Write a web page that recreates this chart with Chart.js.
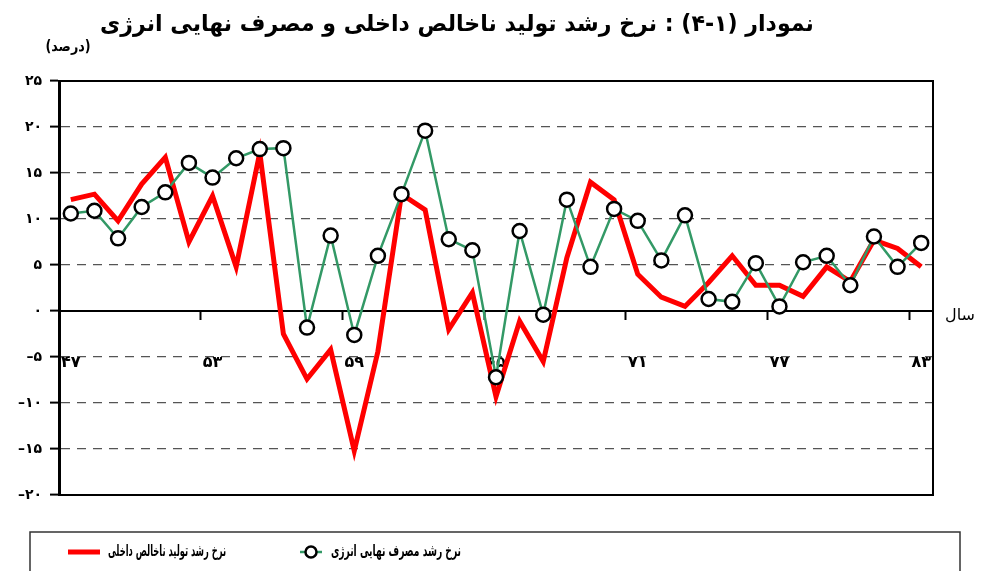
<!DOCTYPE html>
<html lang="fa">
<head>
    <meta charset="UTF-8">
    <title>نرخ رشد تولید ناخالص داخلی و مصرف نهایی انرژی</title>
    <script src="https://cdn.jsdelivr.net/npm/chart.js"></script>
    <style>
        body { margin: 0; padding: 0; background: #fff; }
        .wrap { width: 981px; height: 571px; position: relative; }
    </style>
</head>
<body>
    <div class="wrap">
        <canvas id="growthChart"></canvas>
    </div>

    <script>
        // years 1347..1383
        const years = ['۴۷', '۴۸', '۴۹', '۵۰', '۵۱', '۵۲', '۵۳', '۵۴', '۵۵', '۵۶', '۵۷', '۵۸', '۵۹',
                       '۶۰', '۶۱', '۶۲', '۶۳', '۶۴', '۶۵', '۶۶', '۶۷', '۶۸', '۶۹', '۷۰', '۷۱',
                       '۷۲', '۷۳', '۷۴', '۷۵', '۷۶', '۷۷', '۷۸', '۷۹', '۸۰', '۸۱', '۸۲', '۸۳'];
        const energyGrowth = [10.6, 10.9, 7.9, 11.3, 12.9, 16.1, 14.5, 16.6, 17.6, 17.7, -1.8, 8.2, -2.6,
                              6.0, 12.7, 19.6, 7.8, 6.6, -7.2, 8.7, -0.4, 12.1, 4.8, 11.1, 9.8,
                              5.5, 10.4, 1.3, 1.0, 5.2, 0.5, 5.3, 6.0, 2.8, 8.1, 4.8, 7.4];
        const gdpGrowth = [12.1, 12.7, 9.8, 13.8, 16.7, 7.5, 12.5, 4.8, 17.2, -2.5, -7.4, -4.2, -15.2,
                           -4.4, 12.7, 11.0, -2.0, 2.0, -9.3, -1.1, -5.5, 5.8, 14.0, 12.1, 4.0,
                           1.5, 0.5, 3.1, 6.0, 2.8, 2.8, 1.6, 4.8, 3.2, 7.7, 6.8, 4.8];
        const yTicks = [-20, -15, -10, -5, 0, 5, 10, 15, 20, 25];
        const labelEvery = 6;

        const titleText = 'نمودار (۱-۴) : نرخ رشد تولید ناخالص داخلی و مصرف نهایی انرژی';
        const unitText = '(درصد)';
        const xAxisText = 'سال';
        const energyName = 'نرخ رشد مصرف نهایی انرژی';
        const gdpName = 'نرخ رشد تولید ناخالص داخلی';

        const faFont = '"DejaVu Sans", sans-serif';
        const faDigits = '۰۱۲۳۴۵۶۷۸۹';
        function toFa(n) {
            const s = String(Math.abs(n)).replace(/\d/g, d => faDigits[d]);
            return n < 0 ? '–' + s : s;
        }

        // draw narrow persian text, anchored at x
        function narrowText(ctx, text, x, y, sx) {
            ctx.save();
            ctx.translate(x, y);
            ctx.scale(sx, 1);
            ctx.fillText(text, 0, 0);
            ctx.restore();
        }

        const decor = {
            id: 'decor',
            beforeDatasetsDraw(chart) {
                const { ctx, chartArea: a } = chart;
                ctx.save();
                ctx.strokeStyle = '#000';
                ctx.lineWidth = 2;
                ctx.strokeRect(a.left, a.top, a.right - a.left, a.bottom - a.top);
                ctx.restore();
            },
            afterDraw(chart) {
                const { ctx, chartArea: a } = chart;
                const y0 = chart.scales.y.getPixelForValue(0);
                ctx.save();
                ctx.fillStyle = '#000';
                ctx.direction = 'rtl';
                ctx.textBaseline = 'middle';
                ctx.textAlign = 'center';
                ctx.font = 'bold 23px ' + faFont;
                narrowText(ctx, titleText, 457, 25, 0.96);
                ctx.font = 'bold 15px ' + faFont;
                narrowText(ctx, unitText, 68, 47, 0.85);
                ctx.font = '16px ' + faFont;
                ctx.textAlign = 'left';
                ctx.fillText(xAxisText, a.right + 12, y0 + 5);

                // legend box
                const ly = 552;
                ctx.strokeStyle = '#333';
                ctx.lineWidth = 1.5;
                ctx.strokeRect(30, 532, 930, 60);

                ctx.strokeStyle = '#ff0000';
                ctx.lineWidth = 5;
                ctx.beginPath();
                ctx.moveTo(68, ly);
                ctx.lineTo(100, ly);
                ctx.stroke();

                ctx.strokeStyle = '#339966';
                ctx.lineWidth = 2.5;
                ctx.beginPath();
                ctx.moveTo(300, ly);
                ctx.lineTo(322, ly);
                ctx.stroke();
                ctx.beginPath();
                ctx.arc(311, ly, 5.5, 0, Math.PI * 2);
                ctx.fillStyle = '#fff';
                ctx.fill();
                ctx.strokeStyle = '#000';
                ctx.lineWidth = 2.5;
                ctx.stroke();

                ctx.fillStyle = '#000';
                ctx.font = 'bold 16px ' + faFont;
                ctx.textAlign = 'right';
                narrowText(ctx, gdpName, 226, ly, 0.52);
                narrowText(ctx, energyName, 461, ly, 0.57);
                ctx.restore();
            }
        };

        const ctx = document.getElementById('growthChart').getContext('2d');
        new Chart(ctx, {
            type: 'line',
            data: {
                labels: years,
                datasets: [{
                    label: energyName,
                    data: energyGrowth,
                    borderColor: '#339966',
                    borderWidth: 2.5,
                    pointRadius: 7,
                    pointBorderWidth: 2.5,
                    pointBackgroundColor: '#fff',
                    pointBorderColor: '#000',
                    tension: 0
                }, {
                    label: gdpName,
                    data: gdpGrowth,
                    borderColor: '#ff0000',
                    borderWidth: 5,
                    pointRadius: 0,
                    tension: 0
                }]
            },
            options: {
                responsive: true,
                maintainAspectRatio: false,
                animation: false,
                layout: { padding: { left: 0, top: 81, right: 48, bottom: 76 } },
                scales: {
                    x: {
                        position: { y: 0 },
                        offset: true,
                        grid: {
                            offset: true,
                            drawOnChartArea: false,
                            tickLength: 8,
                            tickWidth: 2,
                            color: 'rgba(0,0,0,0)',
                            tickColor: c => (c.index > 0 && c.index < years.length && c.index % labelEvery === 0) ? '#000' : 'rgba(0,0,0,0)'
                        },
                        border: { color: '#000', width: 2 },
                        ticks: {
                            autoSkip: false,
                            maxRotation: 0,
                            padding: 34,
                            color: '#000',
                            font: { family: faFont, size: 16, weight: 'bold' },
                            callback: (v, i) => i % labelEvery === 0 ? years[i] : ''
                        }
                    },
                    y: {
                        min: yTicks[0],
                        max: yTicks[yTicks.length - 1],
                        afterFit: s => { s.width = 59; },
                        afterBuildTicks: s => { s.ticks = yTicks.map(v => ({ value: v })); },
                        grid: {
                            color: c => [0, 25, -20].includes(c.tick.value) ? 'rgba(0,0,0,0)' : '#555',
                            lineWidth: 1.2,
                            tickLength: 9,
                            tickWidth: 2,
                            tickColor: '#000'
                        },
                        border: { color: '#000', width: 3, dash: [9, 7] },
                        ticks: {
                            padding: 8,
                            color: '#000',
                            font: { family: faFont, size: 14, weight: 'bold' },
                            callback: v => toFa(v)
                        }
                    }
                },
                plugins: {
                    legend: { display: false },
                    tooltip: { enabled: false }
                }
            },
            plugins: [decor]
        });
    </script>
</body>
</html>
